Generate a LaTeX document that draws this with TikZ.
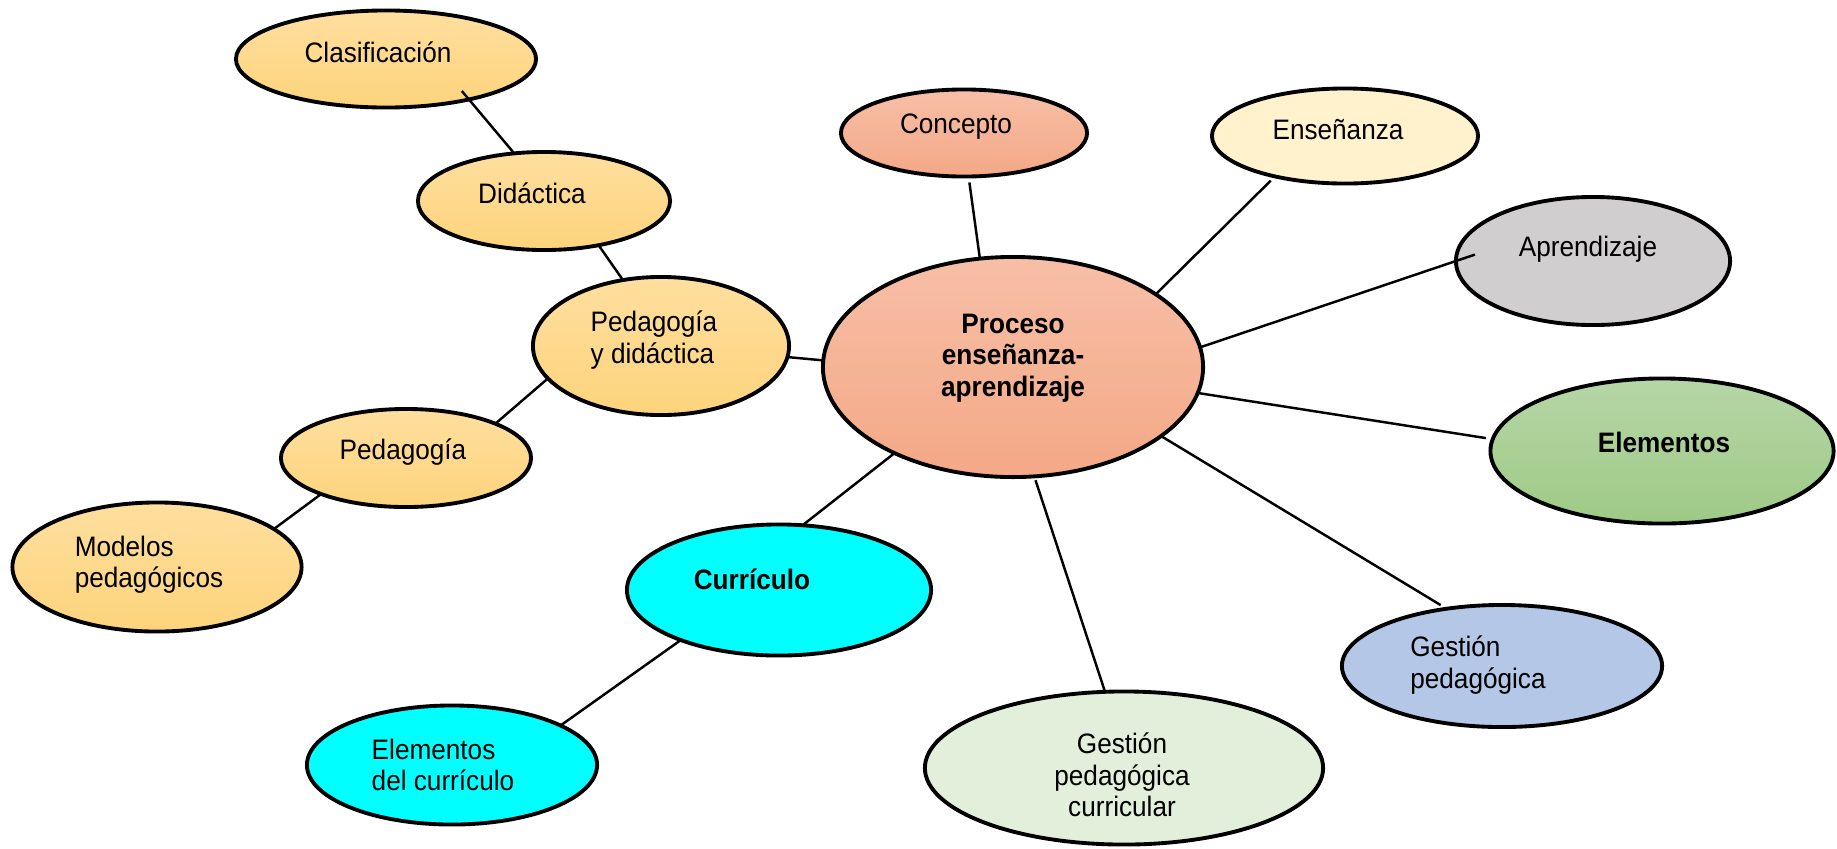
\documentclass[tikz,border=0pt]{standalone}
\usepackage{fontspec}
\setmainfont{Liberation Sans}[FakeStretch=0.93]
\usetikzlibrary{shapes.geometric,calc}

\definecolor{peachtop}{HTML}{FFDF9F}
\definecolor{peachbot}{HTML}{FDD47C}
\definecolor{salmontop}{HTML}{F7BFA7}
\definecolor{salmonbot}{HTML}{F4A886}
\definecolor{creamfill}{HTML}{FFF2CC}
\definecolor{greyfill}{HTML}{D0CECE}
\definecolor{greentop}{HTML}{B6D6A7}
\definecolor{greenbot}{HTML}{9ECA85}
\definecolor{bluefill}{HTML}{B4C7E7}
\definecolor{palegreen}{HTML}{E2EFDA}
\definecolor{cyanfill}{HTML}{00FFFF}

\begin{document}
\begin{tikzpicture}[x=0.01cm, y=-0.01cm,
		bubble/.style={ellipse, draw=black, line width=1.1pt, inner sep=0pt, outer sep=0pt},
		peach/.style={bubble, top color=peachtop, bottom color=peachbot},
		salmon/.style={bubble, top color=salmontop, bottom color=salmonbot},
		txt/.style={font=\fontsize{8}{8.9}\selectfont, align=left, inner sep=0pt},
		txtb/.style={font=\fontsize{8}{8.9}\selectfont\bfseries, align=center, inner sep=0pt}
	]
	\fill[white] (0,0) rectangle (1837,848);
	\useasboundingbox (0,0) rectangle (1837,848);
	% left branch
	\node[peach, minimum width=3.00cm, minimum height=0.97cm,
		label={[txt, xshift=-0.08cm, yshift=0.07cm]center:Clasificación}] (clasif) at (386,59) {};
	\node[peach, minimum width=2.52cm, minimum height=0.98cm,
		label={[txt, xshift=-0.12cm, yshift=0.08cm]center:Didáctica}] (didac) at (544,201) {};
	\node[peach, minimum width=2.56cm, minimum height=1.38cm,
		label={[txt, xshift=-0.07cm, yshift=0.06cm]center:{Pedagogía\\y didáctica}}] (pyd) at (661,346) {};
	\node[peach, minimum width=2.50cm, minimum height=0.98cm,
		label={[txt, xshift=-0.03cm, yshift=0.06cm]center:Pedagogía}] (pedag) at (406,458) {};
	\node[peach, minimum width=2.89cm, minimum height=1.29cm,
		label={[txt, xshift=-0.08cm, yshift=0.02cm]center:{Modelos\\pedagógicos}}] (modelos) at (157,567) {};
	% centre
	\node[salmon, minimum width=3.80cm, minimum height=2.20cm,
		label={[txtb, yshift=0.09cm]center:{Proceso\\enseñanza-\\aprendizaje}}] (proceso) at (1013,367) {};
	\node[salmon, minimum width=2.46cm, minimum height=0.87cm,
		label={[txt, xshift=-0.08cm, yshift=0.06cm]center:Concepto}] (concepto) at (964,133) {};
	% right branch
	\node[bubble, fill=creamfill, minimum width=2.66cm, minimum height=0.95cm,
		label={[txt, xshift=-0.07cm, yshift=0.06cm]center:Enseñanza}] (ensen) at (1345,136) {};
	\node[bubble, fill=greyfill, minimum width=2.74cm, minimum height=1.28cm,
		label={[txt, xshift=-0.05cm, yshift=0.12cm]center:Aprendizaje}] (aprend) at (1593,261) {};
	\node[bubble, top color=greentop, bottom color=greenbot, minimum width=3.43cm, minimum height=1.45cm,
		label={[txtb, xshift=0.02cm, yshift=0.09cm]center:Elementos}] (elem) at (1662,451) {};
	\node[bubble, fill=bluefill, minimum width=3.20cm, minimum height=1.22cm,
		label={[txt, xshift=-0.24cm, yshift=0.01cm]center:{Gestión\\pedagógica}}] (gestped) at (1502,666) {};
	\node[bubble, fill=palegreen, minimum width=3.98cm, minimum height=1.53cm,
		label={[txt, align=center, xshift=-0.02cm, yshift=-0.07cm]center:{Gestión\\pedagógica\\curricular}}] (gestcurr) at (1124,768) {};
	% curriculum
	\node[bubble, fill=cyanfill, minimum width=3.04cm, minimum height=1.31cm,
		label={[txtb, xshift=-0.27cm, yshift=0.11cm]center:Currículo}] (curric) at (779,590) {};
	\node[bubble, fill=cyanfill, minimum width=2.90cm, minimum height=1.19cm,
		label={[txt, xshift=-0.09cm]center:{Elementos\\del currículo}}] (elemcurr) at (452,765) {};
	\begin{scope}[line width=0.7pt]
	\draw[shorten <=-0.11cm] (clasif.-26) -- (didac.122);
	\draw (didac.-39) -- (pyd.120);
	\draw (pyd.196) -- (pedag.21);
	\draw (pedag.203) -- (modelos.18);
	\draw (pyd.-5) -- (proceso.178);
	\draw[shorten <=0.06cm] (concepto.-84) -- (proceso.107);
	\draw[shorten <=0.06cm] (ensen.210) -- (proceso.27);
	\draw[shorten >=-0.2cm] (proceso.6) -- (aprend.180);
	\draw[shorten >=0.07cm] (proceso.-8) -- (elem.176);
	\draw[shorten >=0.07cm] (proceso.-25) -- (gestped.134);
	\draw[shorten <=0.04cm] (proceso.-79) -- (gestcurr.104);
	\draw (proceso.216) -- (curric.70);
	\draw (curric.207) -- (elemcurr.20);
	\end{scope}
\end{tikzpicture}
\end{document}
